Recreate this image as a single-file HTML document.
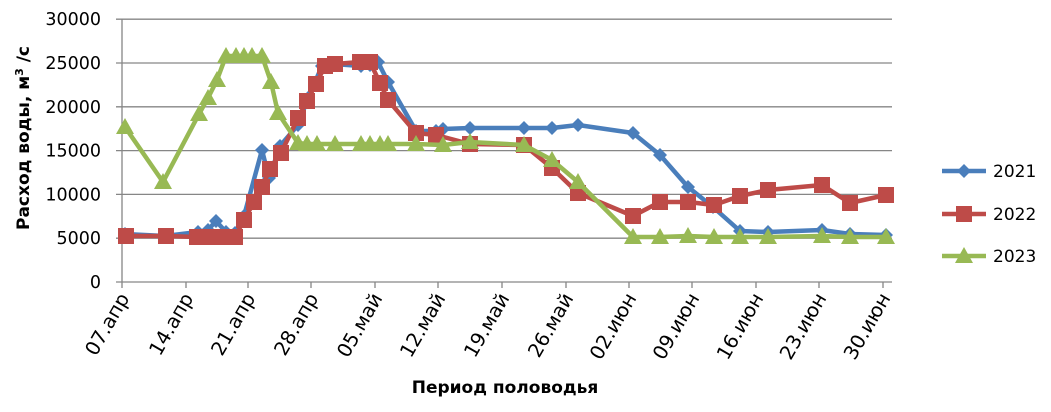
<!DOCTYPE html><html><head><meta charset="utf-8"><style>body{margin:0;background:#fff}svg{display:block;font-family:"DejaVu Sans","Liberation Sans",sans-serif}</style></head><body>
<svg width="1051" height="412" xmlns="http://www.w3.org/2000/svg">
<g font-size="19.5" text-anchor="end" fill="#000">
<text x="130" y="298" transform="rotate(-60 130 298)">07.апр</text>
<text x="194" y="298" transform="rotate(-60 194 298)">14.апр</text>
<text x="256" y="298" transform="rotate(-60 256 298)">21.апр</text>
<text x="319" y="298" transform="rotate(-60 319 298)">28.апр</text>
<text x="383" y="298" transform="rotate(-60 383 298)">05.май</text>
<text x="446" y="298" transform="rotate(-60 446 298)">12.май</text>
<text x="510" y="298" transform="rotate(-60 510 298)">19.май</text>
<text x="574" y="298" transform="rotate(-60 574 298)">26.май</text>
<text x="637" y="298" transform="rotate(-60 637 298)">02.июн</text>
<text x="700" y="298" transform="rotate(-60 700 298)">09.июн</text>
<text x="764" y="298" transform="rotate(-60 764 298)">16.июн</text>
<text x="827" y="298" transform="rotate(-60 827 298)">23.июн</text>
<text x="891" y="298" transform="rotate(-60 891 298)">30.июн</text>
</g>
<g id="s"></g>
</svg>
<script>
const s=document.getElementById('s');let h='';
const y0=282,dy=43.8;
for(let i=0;i<=6;i++){const y=y0-i*dy;h+=`<line x1="116" x2="892" y1="${y}" y2="${y}" stroke="#868686" stroke-width="1.3"/>`;
h+=`<text x="101" y="${y+6}" font-size="17.5" text-anchor="end" fill="#000">${i*5000}</text>`;}
h+=`<line x1="122" x2="122" y1="19" y2="282" stroke="#868686" stroke-width="1.3"/>`;
const tx=[122,186,248,311,375,438,502,566,629,692,756,819,883];
tx.forEach((x,i)=>{h+=`<line x1="${x}" x2="${x}" y1="282" y2="288" stroke="#868686" stroke-width="1.3"/>`;});
h+=`<text x="505" y="393" font-size="17" font-weight="bold" text-anchor="middle">Период половодья</text>`;
h+=`<text transform="translate(29,138) rotate(-90)" font-size="17" font-weight="bold" text-anchor="middle">Расход воды, м<tspan font-size="11" dy="-6">3</tspan><tspan dy="6"> /с</tspan></text>`;
const B=[[125,234],[165,236],[198,232],[208,230],[216,221],[226,232],[235,233],[244,216],[262,150],[269,178],[280,146],[298,125],[308,98],[322,66],[334,64],[361,66],[370,65],[378,62],[388,82],[416,131],[436,131],[443,129],[470,128],[524,128],[552,128],[578,125],[633,133],[660,155],[688,187],[713,207],[740,231],[768,232],[822,230],[850,234],[886,235]];
const R=[[126,236],[166,236],[197,237],[208,237],[216,237],[226,237],[235,237],[244,220],[254,202],[262,187],[270,169],[281,153],[298,118],[307,101],[316,84],[325,66],[335,64],[360,62],[370,62],[380,83],[388,100],[416,133],[436,135],[470,144],[524,145],[552,168],[578,193],[633,216],[660,202],[688,202],[714,205],[740,196],[768,190],[822,185],[850,203],[886,195]];
const G=[[125,127],[163,182],[199,114],[208,98],[217,80],[226,56],[236,56],[244,56],[252,56],[262,56],[271,82],[278,113],[298,143],[307,144],[317,144],[335,144],[361,144],[370,144],[380,144],[388,144],[416,144],[443,145],[470,142],[524,145],[552,160],[578,182],[633,237],[660,237],[688,236],[714,237],[740,237],[768,237],[822,236],[850,237],[886,237]];
const dia=(x,y,c)=>`<polygon points="${x},${y-7} ${x+7},${y} ${x},${y+7} ${x-7},${y}" fill="${c}"/>`;
const sq=(x,y,c)=>`<rect x="${x-8}" y="${y-8}" width="16" height="16" fill="${c}"/>`;
const tri=(x,y,c)=>`<polygon points="${x},${y-9} ${x+9},${y+7} ${x-9},${y+7}" fill="${c}"/>`;
function ser(P,c,m){h+=`<polyline points="${P.map(p=>p.join(',')).join(' ')}" fill="none" stroke="${c}" stroke-width="4.5" stroke-linejoin="round"/>`;P.forEach(p=>h+=m(p[0],p[1],c));}
ser(B,'#4a7ebb',dia);ser(R,'#be4b48',sq);ser(G,'#98b954',tri);
[[171,'#4a7ebb',dia,'2021'],[214,'#be4b48',sq,'2022'],[256,'#98b954',tri,'2023']].forEach(l=>{
h+=`<line x1="942" x2="986" y1="${l[0]}" y2="${l[0]}" stroke="${l[1]}" stroke-width="4.5"/>`+l[2](964,l[0],l[1])+`<text x="993" y="${l[0]+6}" font-size="17">${l[3]}</text>`;});
s.innerHTML=h;
</script></body></html>
